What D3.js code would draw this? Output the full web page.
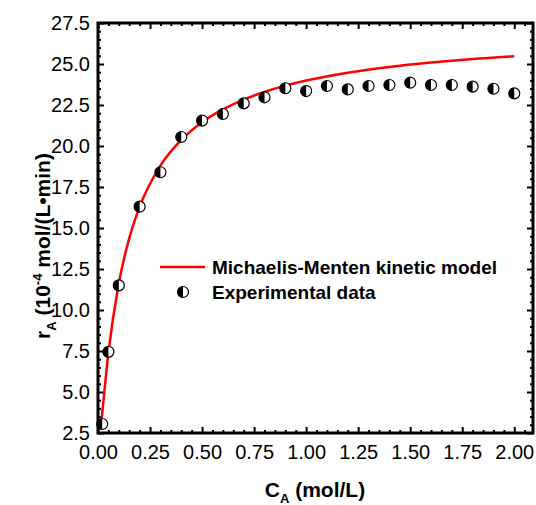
<!DOCTYPE html>
<html>
<head>
<meta charset="utf-8">
<script src="https://cdn.jsdelivr.net/npm/d3@7"></script>
<style>
  body { margin: 0; background: white; }
  text { font-family: Arial, "Liberation Sans", sans-serif; fill: #000; }
</style>
</head>
<body>
<script>
var expC = [0.02, 0.05, 0.1, 0.2, 0.3, 0.4, 0.5, 0.6, 0.7, 0.8, 0.9, 1.0,
            1.1, 1.2, 1.3, 1.4, 1.5, 1.6, 1.7, 1.8, 1.9, 2.0];
var expR = [3.05, 7.45, 11.5, 16.3, 18.4, 20.55, 21.55, 21.95, 22.6, 22.97, 23.52, 23.35,
            23.66, 23.45, 23.66, 23.72, 23.86, 23.72, 23.72, 23.62, 23.49, 23.21];

// model curve
var modelC = [0.018, 0.05, 0.1, 0.15, 0.2, 0.3, 0.4, 0.5, 0.6, 0.7, 0.8, 0.9, 1.0,
              1.2, 1.4, 1.6, 1.8, 2.0];
var modelR = [3.4, 7.39, 11.63, 14.37, 16.29, 18.8, 20.37, 21.45, 22.23, 22.83, 23.3, 23.68, 23.99,
              24.47, 24.82, 25.09, 25.31, 25.48];

var xTicks = [0, 0.25, 0.5, 0.75, 1.0, 1.25, 1.5, 1.75, 2.0];
var yTicks = [2.5, 5, 7.5, 10, 12.5, 15, 17.5, 20, 22.5, 25, 27.5];

var legendLabels = ["Michaelis-Menten kinetic model", "Experimental data"];

// dimensions
var margin = {top: 23, right: 3, bottom: 72, left: 98},
    width = 536 - margin.left - margin.right,
    height = 505 - margin.top - margin.bottom;

var x = d3.scaleLinear().domain([0, 2.09]).range([0, width]);
var y = d3.scaleLinear().domain([2.5, 27.5]).range([height, 0]);

var svg = d3.select("body").append("svg")
    .attr("width", 536)
    .attr("height", 505)
  .append("g")
    .attr("transform", "translate(" + margin.left + "," + margin.top + ")");

// minor ticks
var xMinor = d3.range(0, 2.0901, 0.05).filter(function(v) { return Math.abs(v / 0.25 - Math.round(v / 0.25)) > 1e-6; });
var yMinor = d3.range(2.5, 27.501, 0.5).filter(function(v) { return Math.abs(v / 2.5 - Math.round(v / 2.5)) > 1e-6; });

function styleAxis(g) {
  g.select(".domain").remove();
  g.selectAll(".tick line").attr("stroke", "#000").attr("stroke-width", 2);
}

// bottom axis with labels
svg.append("g")
    .attr("transform", "translate(0," + height + ")")
    .call(d3.axisBottom(x).tickValues(xTicks).tickFormat(d3.format(".2f")).tickSizeInner(-6).tickPadding(12))
    .call(styleAxis)
    .selectAll("text").style("font-size", "20px").attr("font-family", "Arial, Liberation Sans, sans-serif");
svg.append("g")
    .attr("transform", "translate(0," + height + ")")
    .call(d3.axisBottom(x).tickValues(xMinor).tickFormat("").tickSizeInner(-3))
    .call(styleAxis);

// top axis
svg.append("g")
    .call(d3.axisTop(x).tickValues(xTicks).tickFormat("").tickSizeInner(-6))
    .call(styleAxis);
svg.append("g")
    .call(d3.axisTop(x).tickValues(xMinor).tickFormat("").tickSizeInner(-3))
    .call(styleAxis);

// left axis with labels
svg.append("g")
    .call(d3.axisLeft(y).tickValues(yTicks).tickFormat(d3.format(".1f")).tickSizeInner(-6).tickPadding(8))
    .call(styleAxis)
    .selectAll("text").style("font-size", "20px").attr("font-family", "Arial, Liberation Sans, sans-serif");
svg.append("g")
    .call(d3.axisLeft(y).tickValues(yMinor).tickFormat("").tickSizeInner(-3))
    .call(styleAxis);

// right axis
svg.append("g")
    .attr("transform", "translate(" + width + ",0)")
    .call(d3.axisRight(y).tickValues(yTicks).tickFormat("").tickSizeInner(-6))
    .call(styleAxis);
svg.append("g")
    .attr("transform", "translate(" + width + ",0)")
    .call(d3.axisRight(y).tickValues(yMinor).tickFormat("").tickSizeInner(-3))
    .call(styleAxis);

// frame
svg.append("rect")
    .attr("width", width)
    .attr("height", height)
    .attr("fill", "none")
    .attr("stroke", "#000")
    .attr("stroke-width", 3);

// model line
var line = d3.line()
    .x(function(d) { return x(d[0]); })
    .y(function(d) { return y(d[1]); })
    .curve(d3.curveMonotoneX);

svg.append("path")
    .datum(d3.zip(modelC, modelR))
    .attr("fill", "none")
    .attr("stroke", "#ff0000")
    .attr("stroke-width", 2.5)
    .attr("d", line);

// half-filled marker
var r = 5.5;
function marker(sel) {
  sel.append("circle")
      .attr("r", r)
      .attr("fill", "#fff")
      .attr("stroke", "#000")
      .attr("stroke-width", 1.2);
  sel.append("path")
      .attr("d", "M0," + (-r) + "A" + r + "," + r + " 0 0,0 0," + r + "Z")
      .attr("fill", "#000");
}

svg.selectAll(".pt")
    .data(d3.zip(expC, expR))
    .enter().append("g")
    .attr("class", "pt")
    .attr("transform", function(d) { return "translate(" + x(d[0]) + "," + y(d[1]) + ")"; })
    .call(marker);

// legend
var leg = svg.append("g").attr("transform", "translate(" + (160 - margin.left) + "," + (267 - margin.top) + ")");
leg.append("line")
    .attr("x1", 0).attr("x2", 45)
    .attr("stroke", "#ff0000").attr("stroke-width", 2.5);
leg.append("g").attr("transform", "translate(23,25)").call(marker);
leg.selectAll(".lt")
    .data(legendLabels)
    .enter().append("text")
    .attr("x", 52)
    .attr("y", function(d, i) { return i * 25; })
    .attr("dy", "0.35em")
    .style("font-size", "19px")
    .style("font-weight", "bold")
    .text(function(d) { return d; });

// x title
var xt = svg.append("text")
    .attr("x", 315 - margin.left)
    .attr("y", 497 - margin.top)
    .attr("text-anchor", "middle")
    .style("font-size", "21px")
    .style("font-weight", "bold");
xt.append("tspan").text("C");
xt.append("tspan").attr("dy", 6).style("font-size", "13px").text("A");
xt.append("tspan").attr("dy", -6).text(" (mol/L)");

// y title
var yt = svg.append("text")
    .attr("transform", "translate(" + (50 - margin.left) + "," + (246 - margin.top) + ") rotate(-90)")
    .attr("text-anchor", "middle")
    .style("font-size", "21px")
    .style("font-weight", "bold");
yt.append("tspan").text("r");
yt.append("tspan").attr("dy", 6).style("font-size", "13px").text("A");
yt.append("tspan").attr("dy", -6).text(" (10");
yt.append("tspan").attr("dy", -8).style("font-size", "13px").text("-4");
yt.append("tspan").attr("dy", 8).text(" mol/(L\u2022min)");
</script>
</body>
</html>
